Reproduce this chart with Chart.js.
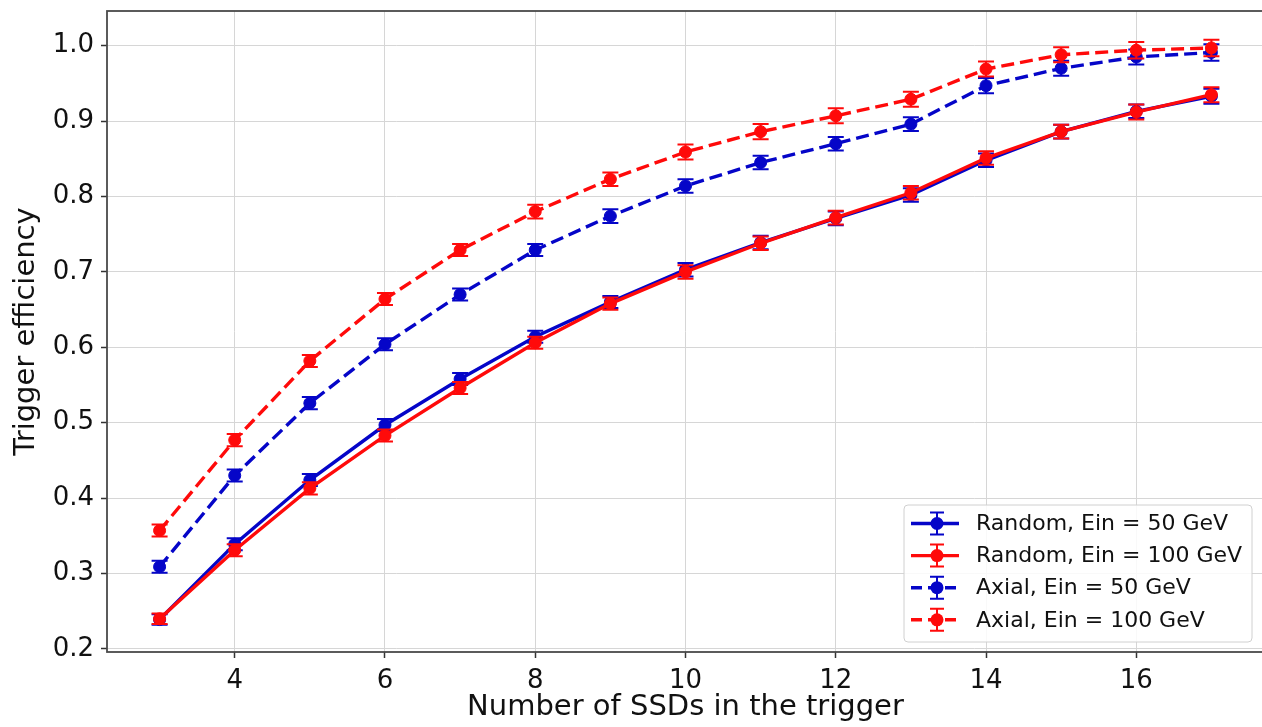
<!DOCTYPE html>
<html>
<head>
<meta charset="utf-8">
<script src="https://cdn.jsdelivr.net/npm/chart.js@4.4.1/dist/chart.umd.min.js"></script>
<style>
  html, body { margin: 0; padding: 0; background: #fff; overflow: hidden; }
  #wrap { position: relative; width: 1300px; height: 727px; }
</style>
</head>
<body>
<div id="wrap"><canvas id="triggerChart"></canvas></div>
<script>
// number of SSDs in the trigger
const nSSD = [3, 4, 5, 6, 7, 8, 9, 10, 11, 12, 13, 14, 15, 16, 17];

// efficiencies
const random50 = [0.239, 0.339, 0.424, 0.497, 0.558, 0.614, 0.660, 0.703, 0.739, 0.771, 0.802, 0.848, 0.886, 0.913, 0.933];
const random100 = [0.240, 0.331, 0.413, 0.483, 0.546, 0.606, 0.658, 0.700, 0.738, 0.772, 0.805, 0.851, 0.886, 0.912, 0.935];
const axial50 = [0.309, 0.430, 0.526, 0.604, 0.670, 0.729, 0.774, 0.814, 0.845, 0.870, 0.896, 0.947, 0.970, 0.985, 0.991];
const axial100 = [0.357, 0.477, 0.582, 0.664, 0.729, 0.780, 0.823, 0.859, 0.886, 0.907, 0.929, 0.969, 0.988, 0.994, 0.997];

// error bar half-heights
const random50Err = [0.007, 0.008, 0.008, 0.008, 0.008, 0.008, 0.008, 0.009, 0.009, 0.009, 0.009, 0.009, 0.009, 0.009, 0.010];
const random100Err = [0.007, 0.008, 0.008, 0.008, 0.008, 0.008, 0.008, 0.009, 0.009, 0.009, 0.009, 0.009, 0.009, 0.010, 0.010];
const axial50Err = [0.008, 0.008, 0.008, 0.008, 0.008, 0.008, 0.009, 0.009, 0.009, 0.009, 0.009, 0.010, 0.010, 0.010, 0.011];
const axial100Err = [0.008, 0.008, 0.008, 0.008, 0.008, 0.009, 0.009, 0.010, 0.010, 0.010, 0.010, 0.010, 0.010, 0.011, 0.011];

const seriesLabels = ['Random, Ein = 50 GeV', 'Random, Ein = 100 GeV', 'Axial, Ein = 50 GeV', 'Axial, Ein = 100 GeV'];

const xTicks = [4, 6, 8, 10, 12, 14, 16];
const yTicks = [0.2, 0.3, 0.4, 0.5, 0.6, 0.7, 0.8, 0.9, 1.0];

const BLUE = '#0505c8';
const RED = '#ff0a0a';
const FONT = 'DejaVu Sans';

const toPoints = (ys) => nSSD.map((x, i) => ({ x: x, y: ys[i] }));

function makeSeries(label, ys, errs, color, dashed, order) {
    return {
        label: label,
        data: toPoints(ys),
        errors: errs,
        borderColor: color,
        backgroundColor: color,
        borderWidth: 3.4,
        borderDash: dashed ? [13, 6] : [],
        pointRadius: 6,
        pointBorderWidth: 1,
        pointBackgroundColor: color,
        pointBorderColor: color,
        showLine: true,
        tension: 0,
        order: order,
    };
}

// error bars drawn just under each series
const errorBarPlugin = {
    id: 'errorBars',
    beforeDatasetDraw(chart, args) {
        const ds = chart.data.datasets[args.index];
        if (!ds.errors) return;
        const xs = chart.scales.x, ys = chart.scales.y;
        const ctx = chart.ctx;
        ctx.save();
        ctx.strokeStyle = ds.borderColor;
        ctx.lineWidth = 2;
        ctx.setLineDash([]);
        ds.data.forEach((p, i) => {
            const px = xs.getPixelForValue(p.x);
            const top = ys.getPixelForValue(p.y + ds.errors[i]);
            const bot = ys.getPixelForValue(p.y - ds.errors[i]);
            ctx.beginPath();
            ctx.moveTo(px, top); ctx.lineTo(px, bot);
            ctx.moveTo(px - 8, top); ctx.lineTo(px + 8, top);
            ctx.moveTo(px - 8, bot); ctx.lineTo(px + 8, bot);
            ctx.stroke();
        });
        ctx.restore();
    }
};

// box around the plot area
const framePlugin = {
    id: 'frame',
    afterDatasetsDraw(chart) {
        const a = chart.chartArea;
        const ctx = chart.ctx;
        ctx.save();
        ctx.strokeStyle = '#4a4a4a';
        ctx.lineWidth = 1.8;
        ctx.strokeRect(a.left, a.top, a.right - a.left, a.bottom - a.top);
        ctx.restore();
    }
};

// matplotlib style legend, lower right
const legendPlugin = {
    id: 'mplLegend',
    afterDraw(chart) {
        const ctx = chart.ctx;
        const left = 904, top = 505, w = 348, h = 137;
        ctx.save();
        ctx.beginPath();
        ctx.roundRect(left, top, w, h, 4);
        ctx.fillStyle = 'rgba(255,255,255,0.85)';
        ctx.fill();
        ctx.strokeStyle = '#d0d0d0';
        ctx.lineWidth = 1;
        ctx.stroke();
        chart.data.datasets.forEach((ds, i) => {
            const cy = top + 18.5 + i * 32.1;
            const mx = left + 33;
            ctx.strokeStyle = ds.borderColor;
            ctx.lineWidth = 3.4;
            ctx.setLineDash(ds.borderDash.length ? [11, 6] : []);
            ctx.beginPath();
            ctx.moveTo(left + 7, cy);
            ctx.lineTo(left + 55, cy);
            ctx.stroke();
            ctx.setLineDash([]);
            ctx.lineWidth = 2;
            ctx.beginPath();
            ctx.moveTo(mx, cy - 11); ctx.lineTo(mx, cy + 11);
            ctx.moveTo(mx - 7, cy - 11); ctx.lineTo(mx + 7, cy - 11);
            ctx.moveTo(mx - 7, cy + 11); ctx.lineTo(mx + 7, cy + 11);
            ctx.stroke();
            ctx.fillStyle = ds.borderColor;
            ctx.beginPath();
            ctx.arc(mx, cy, 6.5, 0, Math.PI * 2);
            ctx.fill();
            ctx.fillStyle = '#111';
            ctx.font = '22px "' + FONT + '"';
            ctx.textBaseline = 'middle';
            ctx.textAlign = 'left';
            ctx.fillText(ds.label, left + 72, cy + 1);
        });
        ctx.restore();
    }
};

const ctx = document.getElementById('triggerChart').getContext('2d');

const triggerChart = new Chart(ctx, {
    type: 'scatter',
    data: {
        datasets: [
            makeSeries(seriesLabels[0], random50, random50Err, BLUE, false, 3),
            makeSeries(seriesLabels[1], random100, random100Err, RED, false, 2),
            makeSeries(seriesLabels[2], axial50, axial50Err, BLUE, true, 1),
            makeSeries(seriesLabels[3], axial100, axial100Err, RED, true, 0),
        ]
    },
    options: {
        responsive: true,
        maintainAspectRatio: false,
        animation: false,
        events: [],
        layout: {
            padding: { left: 0, top: 11, right: 36, bottom: 0 }
        },
        scales: {
            x: {
                type: 'linear',
                min: 2.3,
                max: 17.7,
                afterBuildTicks: (scale) => { scale.ticks = xTicks.map(v => ({ value: v })); },
                afterFit: (scale) => {
                    scale.height = 75;
                    scale.paddingLeft = 0;
                    scale.paddingRight = 0;
                },
                border: { display: false },
                grid: {
                    color: '#d6d6d6',
                    lineWidth: 1,
                    tickLength: 6,
                    tickColor: '#333',
                    tickWidth: 1.5,
                },
                ticks: {
                    autoSkip: false,
                    maxRotation: 0,
                    padding: 8,
                    color: '#111',
                    font: { family: FONT, size: 26 },
                    callback: (v) => String(v),
                },
                title: {
                    display: true,
                    text: 'Number of SSDs in the trigger',
                    color: '#111',
                    font: { family: FONT, size: 29 },
                    padding: { top: 0, bottom: 2 },
                }
            },
            y: {
                type: 'linear',
                min: 0.196,
                max: 1.046,
                afterBuildTicks: (scale) => { scale.ticks = yTicks.map(v => ({ value: v })); },
                afterFit: (scale) => {
                    scale.width = 107;
                    scale.paddingTop = 0;
                    scale.paddingBottom = 0;
                },
                border: { display: false },
                grid: {
                    color: '#d6d6d6',
                    lineWidth: 1,
                    tickLength: 6,
                    tickColor: '#333',
                    tickWidth: 1.5,
                },
                ticks: {
                    padding: 7,
                    color: '#111',
                    font: { family: FONT, size: 26 },
                    callback: (v) => v.toFixed(1),
                },
                title: {
                    display: true,
                    text: 'Trigger efficiency',
                    color: '#111',
                    font: { family: FONT, size: 29 },
                    padding: { top: 9, bottom: 0 },
                }
            }
        },
        plugins: {
            legend: { display: false },
            tooltip: { enabled: false },
        }
    },
    plugins: [errorBarPlugin, framePlugin, legendPlugin]
});
</script>
</body>
</html>
